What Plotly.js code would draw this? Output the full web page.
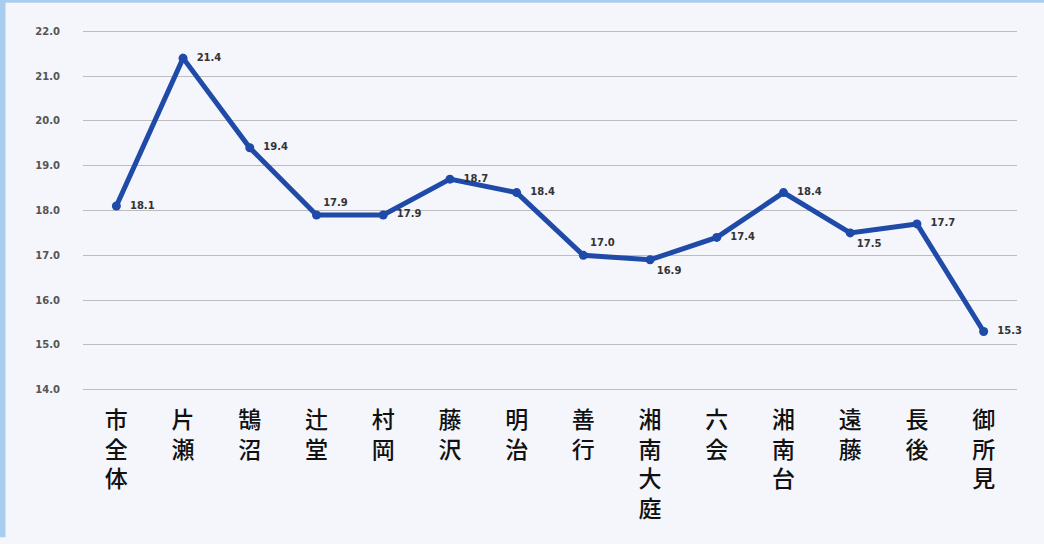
<!DOCTYPE html>
<html>
<head>
<meta charset="utf-8">
<script src="https://cdn.plot.ly/plotly-3.0.1.min.js"></script>
<style>
html,body{margin:0;padding:0;background:#f4f6fb;}
#chart{width:1044px;height:544px;}
</style>
</head>
<body>
<div id="chart"></div>
<script>
const categories = ["市全体","片瀬","鵠沼","辻堂","村岡","藤沢","明治","善行","湘南大庭","六会","湘南台","遠藤","長後","御所見"];
const values = [18.1, 21.4, 19.4, 17.9, 17.9, 18.7, 18.4, 17.0, 16.9, 17.4, 18.4, 17.5, 17.7, 15.3];
const labelPositions = ["middle right","middle right","middle right","top right","middle right","middle right","middle right","top right","bottom right","middle right","middle right","bottom right","middle right","middle right"];
const yTicks = [14, 15, 16, 17, 18, 19, 20, 21, 22];

const verticalLabels = categories.map(c => c.split("").join("<br>"));
const pad = "\u00a0\u00a0";
const labelTexts = values.map((v, i) => (labelPositions[i] === "middle right" ? pad : "") + v.toFixed(1));

const trace = {
  type: "scatter",
  mode: "lines+markers+text",
  x: categories,
  y: values,
  text: labelTexts,
  textposition: labelPositions,
  textfont: {family: "DejaVu Sans, Verdana, sans-serif", size: 10, color: "#333", weight: "bold"},
  line: {color: "#1f4aa8", width: 5},
  marker: {color: "#1f4aa8", size: 9},
  cliponaxis: false,
  hoverinfo: "x+y"
};

const layout = {
  width: 1044,
  height: 544,
  margin: {l: 83, r: 27, t: 29, b: 152},
  paper_bgcolor: "#f4f6fb",
  plot_bgcolor: "#f4f6fb",
  showlegend: false,
  xaxis: {
    type: "category",
    tickmode: "array",
    tickvals: categories,
    ticktext: verticalLabels,
    showgrid: false,
    zeroline: false,
    showline: false,
    ticks: "outside",
    ticklen: 7,
    tickcolor: "rgba(0,0,0,0)",
    tickfont: {family: "Noto Sans CJK JP, sans-serif", size: 23, color: "#111", weight: 500},
    range: [-0.5, categories.length - 0.5]
  },
  yaxis: {
    range: [13.95, 22.05],
    tickmode: "array",
    tickvals: yTicks,
    ticktext: yTicks.map(v => v.toFixed(1)),
    showgrid: true,
    gridcolor: "#bdbdbd",
    gridwidth: 1,
    zeroline: false,
    showline: false,
    ticks: "outside",
    ticklen: 20,
    tickcolor: "rgba(0,0,0,0)",
    tickfont: {family: "DejaVu Sans, Verdana, sans-serif", size: 10, color: "#555", weight: "bold"}
  },
  shapes: [
    {type: "rect", xref: "paper", yref: "paper", x0: -0.09, x1: -0.083, y0: -0.4, y1: 1.1, fillcolor: "#a9cdee", line: {width: 0}, layer: "below"},
    {type: "rect", xref: "paper", yref: "paper", x0: -0.09, x1: 1.05, y0: 1.072, y1: 1.1, fillcolor: "#a9cdee", line: {width: 0}, layer: "below"}
  ]
};

Plotly.newPlot("chart", [trace], layout, {displayModeBar: false, staticPlot: true});
</script>
</body>
</html>
